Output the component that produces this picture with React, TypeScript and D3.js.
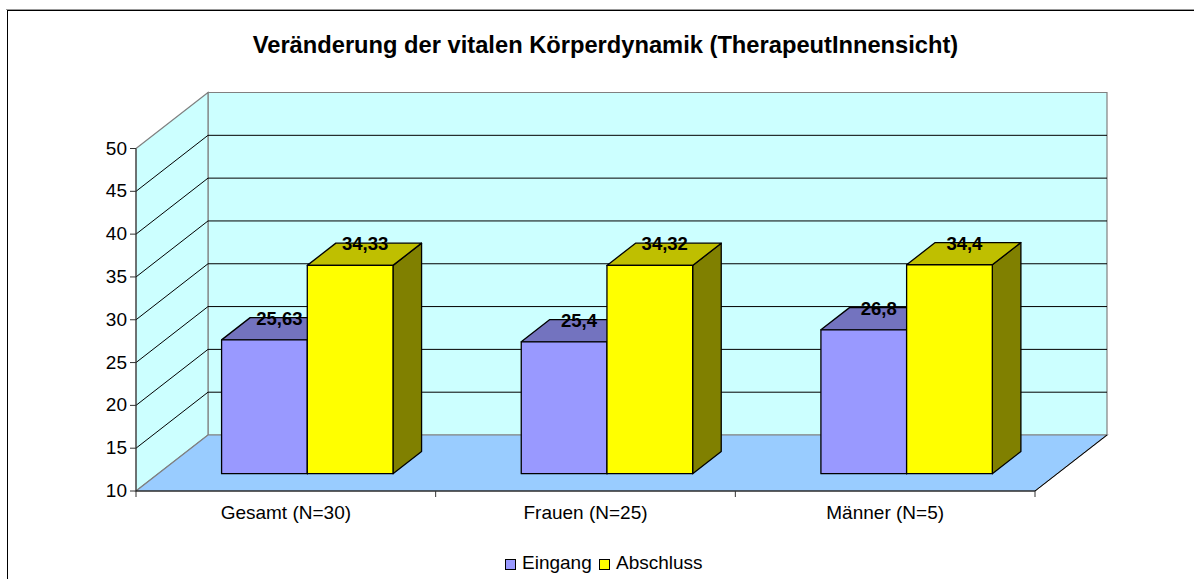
import React from "react";
import * as d3 from "d3";

const categories = ["Gesamt (N=30)", "Frauen (N=25)", "Männer (N=5)"];
const eingang = [25.63, 25.4, 26.8];
const abschluss = [34.33, 34.32, 34.4];
const eingangLabels = ["25,63", "25,4", "26,8"];
const abschlussLabels = ["34,33", "34,32", "34,4"];
const yTicks = [10, 15, 20, 25, 30, 35, 40, 45, 50];
const titleText = "Veränderung der vitalen Körperdynamik (TherapeutInnensicht)";
const legendLabels = ["Eingang", "Abschluss"];

const W = 1194, H = 579;
const FONT = "'Liberation Sans', Arial, sans-serif";
const DX = 72, DY = -56;

const y = d3.scaleLinear().domain([10, 50]).range([491, 148.5]);
const xBand = d3.scaleBand<string>().domain(categories).range([136, 1035]);
const project = (px: number, py: number, depth: number): [number, number] => [px + DX * depth, py + DY * depth];
const poly = (pts: [number, number][]) => d3.line()(pts)! + "Z";

const barFront = 0.309;
const barBack = 0.706;
const barWidth = 85.7;
const barShift = -0.8;

function Bar({ cx, side, value, face, top, right }: { cx: number; side: number; value: number; face: string; top: string; right: string }) {
  const x0 = (side < 0 ? cx - barWidth : cx) + barShift;
  const x1 = x0 + barWidth;
  const yTop = y(value);
  const yBase = y(10);
  const f = (px: number, py: number) => project(px, py, barFront);
  const b = (px: number, py: number) => project(px, py, barBack);
  const s = { stroke: "#000", strokeWidth: 1.3, strokeLinejoin: "round" as const };
  return (
    <g>
      <path d={poly([f(x1, yTop), b(x1, yTop), b(x1, yBase), f(x1, yBase)])} fill={right} {...s} />
      <path d={poly([f(x0, yTop), b(x0, yTop), b(x1, yTop), f(x1, yTop)])} fill={top} {...s} />
      <path d={poly([f(x0, yTop), f(x1, yTop), f(x1, yBase), f(x0, yBase)])} fill={face} {...s} />
    </g>
  );
}

export default function App() {
  const left = 136, right = 1035;
  const yBase = y(10), yTopV = y(50);
  const cats = categories.map((c) => ({ c, cx: xBand(c)! + xBand.bandwidth() / 2 }));
  const barLabel = (cx: number, side: number, v: number) => {
    const x0 = side < 0 ? cx - barWidth : cx;
    const [tx, ty] = project(x0 + barWidth / 2, y(v), 0.55);
    return [tx - 3.2, ty - 1.6];
  };
  return (
    <svg width={W} height={H} viewBox={`0 0 ${W} ${H}`} style={{ position: "absolute", left: 0, top: 0, display: "block", background: "#fff" }} fontFamily={FONT}>
      {/* frame: open on the right and bottom */}
      <line x1={6} y1={9.5} x2={W} y2={9.5} stroke="#999" strokeWidth={1} />
      <line x1={7} y1={10.5} x2={W} y2={10.5} stroke="#000" strokeWidth={1} />
      <line x1={7.5} y1={10} x2={7.5} y2={H} stroke="#000" strokeWidth={1} />

      <text x={605.5} y={53} textAnchor="middle" fontSize={23.7} fontWeight={700} fill="#000">{titleText}</text>

      {/* walls */}
      <path d={poly([project(left, yTopV, 1), project(right, yTopV, 1), project(right, yBase, 1), project(left, yBase, 1)])} fill="#ccffff" stroke="#808080" strokeWidth={1.2} />
      <path d={poly([[left, yTopV], project(left, yTopV, 1), project(left, yBase, 1), [left, yBase]])} fill="#ccffff" stroke="#808080" strokeWidth={1.2} />
      <path d={poly([[left, yBase], project(left, yBase, 1), project(right, yBase, 1), [right, yBase]])} fill="#99ccff" stroke="#808080" strokeWidth={1.2} />

      {/* gridlines */}
      {yTicks.slice(1, -1).map((t) => {
        const [bx, by] = project(left, y(t), 1);
        const [ex] = project(right, y(t), 1);
        return (
          <g key={t} stroke="#000" strokeWidth={1}>
            <line x1={left} y1={y(t)} x2={bx} y2={by} />
            <line x1={bx} y1={by} x2={ex} y2={by} />
          </g>
        );
      })}

      {/* axes */}
      <line x1={left} y1={yTopV} x2={left} y2={yBase} stroke="#333" strokeWidth={1} />
      <line x1={left} y1={yBase} x2={right} y2={yBase} stroke="#000" strokeWidth={1} />
      <line x1={right} y1={yBase} x2={project(right, yBase, 1)[0]} y2={project(right, yBase, 1)[1]} stroke="#000" strokeWidth={1} />
      {yTicks.map((t) => (
        <g key={t}>
          <line x1={left - 6} y1={y(t)} x2={left} y2={y(t)} stroke="#333" strokeWidth={1} />
          <text x={127} y={y(t) + 6} textAnchor="end" fontSize={19} fill="#000">{t}</text>
        </g>
      ))}
      {[left, ...categories.map((c) => xBand(c)! + xBand.bandwidth())].map((t, i) => (
        <line key={i} x1={t} y1={yBase} x2={t} y2={yBase + 6} stroke="#333" strokeWidth={1} />
      ))}
      {cats.map(({ c, cx }) => (
        <text key={c} x={cx} y={519} textAnchor="middle" fontSize={19} fill="#000">{c}</text>
      ))}

      {/* bars */}
      {cats.map(({ c, cx }, i) => (
        <g key={c}>
          <Bar cx={cx} side={-1} value={eingang[i]} face="#9999ff" top="#7373bf" right="#4d4d80" />
          <Bar cx={cx} side={1} value={abschluss[i]} face="#ffff00" top="#bfbf00" right="#808000" />
        </g>
      ))}
      {cats.map(({ c, cx }, i) => {
        const [ax, ay] = barLabel(cx, -1, eingang[i]);
        const [bx, by] = barLabel(cx, 1, abschluss[i]);
        return (
          <g key={c} fontSize={18.5} fontWeight={700} fill="#000" textAnchor="middle">
            <text x={ax} y={ay}>{eingangLabels[i]}</text>
            <text x={bx} y={by}>{abschlussLabels[i]}</text>
          </g>
        );
      })}

      {/* legend */}
      <rect x={505.5} y={559.5} width={10} height={10} fill="#9999ff" stroke="#000" strokeWidth={1} />
      <text x={522} y={569} fontSize={19} fill="#000">{legendLabels[0]}</text>
      <rect x={599.5} y={559.5} width={10} height={10} fill="#ffff00" stroke="#000" strokeWidth={1} />
      <text x={616} y={569} fontSize={19} fill="#000">{legendLabels[1]}</text>
    </svg>
  );
}
